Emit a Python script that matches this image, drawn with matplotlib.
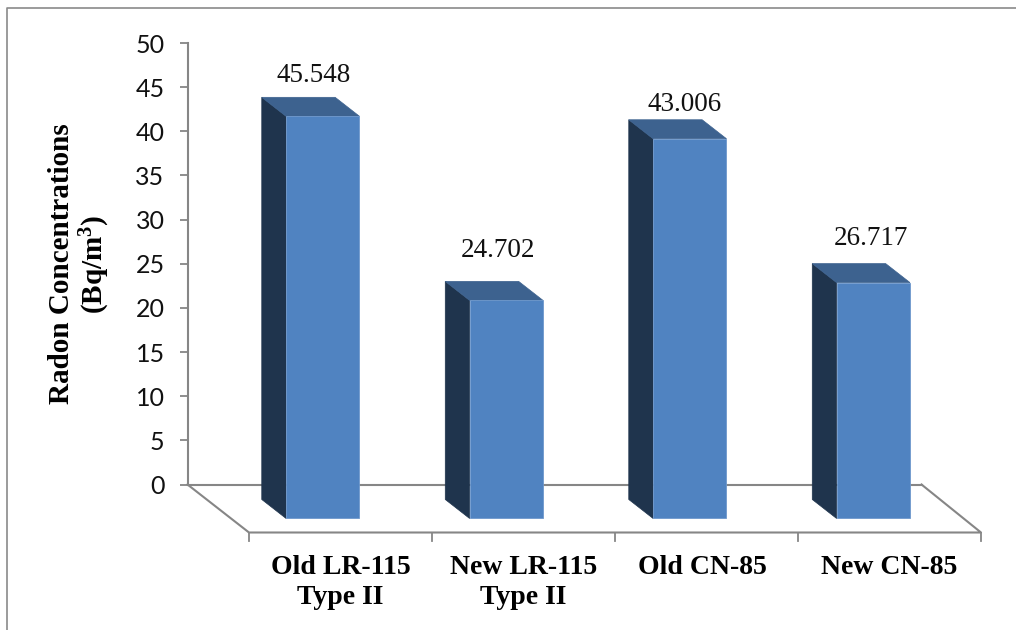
import matplotlib
matplotlib.use("Agg")
import matplotlib.pyplot as plt
from matplotlib.lines import Line2D
from matplotlib.patches import Polygon

categories = ["Old LR-115\nType II", "New LR-115\nType II", "Old CN-85", "New CN-85"]
values = [45.548, 24.702, 43.006, 26.717]
value_labels = ["45.548", "24.702", "43.006", "26.717"]
y_ticks = [0, 5, 10, 15, 20, 25, 30, 35, 40, 45, 50]

W, H = 1016, 630
plt.rcParams["mathtext.fontset"] = "custom"
plt.rcParams["mathtext.bf"] = "Liberation Serif:bold"
plt.rcParams["mathtext.rm"] = "Liberation Serif"

fig = plt.figure(figsize=(W / 100, H / 100), dpi=100)

# axes is the back wall of the 3D box, the floor hangs below it
left, right, top, bottom = 187.5, 921.5, 43, 484.5
ax = fig.add_axes([left / W, 1 - bottom / H, (right - left) / W, (bottom - top) / H])
ax.set_xlim(0, 4)
ax.set_ylim(0, 50)
ax.patch.set_visible(False)

grey = "#868686"
for s in ["top", "right"]:
    ax.spines[s].set_visible(False)
ax.spines["left"].set_color(grey)
ax.spines["bottom"].set_color(grey)
ax.spines["left"].set_linewidth(1.5)
ax.spines["bottom"].set_linewidth(1.5)
ax.set_xticks([])
ax.set_yticks(y_ticks)
ax.tick_params(axis="y", length=6, width=1.3, color=grey, pad=10.5)
for lab in ax.get_yticklabels():
    lab.set_fontfamily("Lato")
    lab.set_fontsize(18)
    lab.set_color("#111111")

# depth of the box in data units
depth_x = 61.5 / ((right - left) / 4)
depth_y = 48 / ((bottom - top) / 50)


def proj(x, v, d):
    return x + depth_x * d, v - depth_y * d


# floor outline and front ticks, the front edge is a touch shorter than the back
shrink = 732 / 734
fl_x, fl_y = proj(0, 0, 1)
floor = [proj(0, 0, 0), (fl_x, fl_y), (fl_x + 4 * shrink, fl_y), proj(4, 0, 0)]
ax.add_line(Line2D(*zip(*floor), color=grey, lw=1.5, clip_on=False, zorder=1))
tick_len = 8 / ((bottom - top) / 50)
for i in range(5):
    x = fl_x + i * shrink
    ax.add_line(Line2D([x, x], [fl_y, fl_y - tick_len], color=grey, lw=1.3, clip_on=False, zorder=1))

front, back = 0.708, 0.3125
half = 0.2
label_dx = [2.5, 4, 7, 10]
label_dy = [22, 31, 15, 25]
cat_dx = [0, 0, -4, 0]

for i, v in enumerate(values):
    c = i + 0.5
    fl = proj(c - half, 0, front)
    fr = proj(c + half, 0, front)
    tl = proj(c - half, v, front)
    tr = proj(c + half, v, front)
    bl = proj(c - half, 0, back)
    btl = proj(c - half, v, back)
    btr = proj(c + half, v, back)
    ax.add_patch(Polygon([bl, fl, tl, btl], fc="#1F344D", ec="#1F344D", lw=0.5, clip_on=False, zorder=3))
    ax.add_patch(Polygon([btl, tl, tr, btr], fc="#3D628F", ec="#3D628F", lw=0.5, clip_on=False, zorder=3))
    ax.add_patch(Polygon([fl, fr, tr, tl], fc="#5083C1", ec="#6E98CC", lw=0.6, clip_on=False, zorder=4))
    ax.annotate(value_labels[i], ((btl[0] + tr[0]) / 2, btl[1]), xytext=(label_dx[i] * 0.72, label_dy[i] * 0.72),
                textcoords="offset points", ha="center", va="center", family="Liberation Serif",
                fontsize=19.5, color="#111111", annotation_clip=False, zorder=5)
    lx = fl_x + (i + 0.5) * shrink + cat_dx[i] / ((right - left) / 4)
    ax.text(lx, fl_y - 23 / ((bottom - top) / 50), categories[i], ha="center", va="top", family="Liberation Serif",
            fontweight="bold", fontsize=20, linespacing=1.25, color="#000000", clip_on=False)

fig.text(80 / W, 1 - 264 / H, "Radon Concentrations\n(Bq/m$\\mathbf{^3}$)", rotation=90, ha="center", va="center",
         family="Liberation Serif", fontweight="bold", fontsize=21, linespacing=1.12, multialignment="center")

# thin frame around the chart area
fig.add_artist(Line2D([6.5 / W, 6.5 / W, 1], [0, 1 - 7.5 / H, 1 - 7.5 / H], color="#8a8a8a", lw=1.2))

fig.savefig("out.png", dpi=100)
